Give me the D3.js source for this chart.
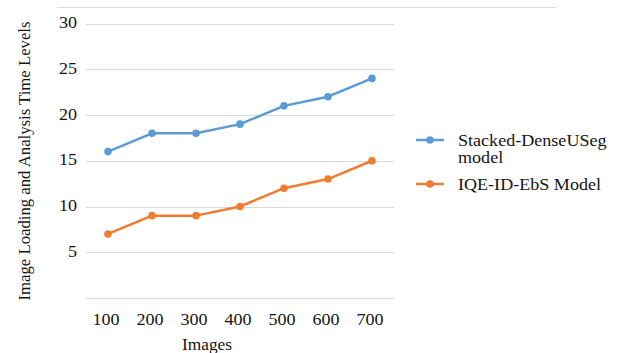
<!DOCTYPE html>
<html><head><meta charset="utf-8">
<script src="https://cdn.jsdelivr.net/npm/d3@7"></script>
<style>body{margin:0;background:#fff}text{font-family:"Liberation Serif","Times New Roman",serif;fill:#141414}</style>
</head><body><svg id="c" width="619" height="353"></svg>
<script>
const categories = ["100","200","300","400","500","600","700"];
const stackedDense = [16,18,18,19,21,22,24];
const iqeModel = [7,9,9,10,12,13,15];
const yTicks = [5,10,15,20,25,30];
const seriesNames = ["Stacked-DenseUSeg model","IQE-ID-EbS Model"];
const colors = ["#5B9BD5","#ED7D31"];

const svg = d3.select("#c");
const x = d3.scalePoint().domain(categories).range([108,372]);
const y = d3.scaleLinear().domain([0,30]).range([298,23.5]);
const SX = 1.13, FS = 16;

function txt(g, px, py, t, anchor, sx){
  return g.append("text").attr("transform",`translate(${px},${py}) scale(${sx||SX},1)`)
    .attr("text-anchor",anchor||"start").attr("font-size",FS).attr("dy","0.35em").text(t);
}

svg.append("line").attr("x1",57).attr("x2",556).attr("y1",7.5).attr("y2",7.5).attr("stroke","#d9d9d9");

const gridVals = [0].concat(yTicks);
svg.append("g").selectAll("line").data(gridVals).join("line")
  .attr("x1",86).attr("x2",394).attr("y1",d=>Math.round(y(d))+0.5).attr("y2",d=>Math.round(y(d))+0.5)
  .attr("stroke","#d9d9d9").attr("stroke-width",1);

yTicks.forEach(d=>txt(svg,77,y(d)-1,d,"end"));
categories.forEach(d=>txt(svg,x(d)-2,319,d,"middle"));
txt(svg,207,344,"Images","middle",1.08);
svg.append("text").attr("transform","translate(24,161) rotate(-90) scale(1.045,1)").attr("text-anchor","middle")
  .attr("font-size",FS).attr("dy","0.35em").text("Image Loading and Analysis Time Levels");

const line = d3.line().x((d,i)=>x(categories[i])).y(d=>y(d));
[stackedDense, iqeModel].forEach((s,k)=>{
  svg.append("path").datum(s).attr("d",line).attr("fill","none").attr("stroke",colors[k]).attr("stroke-width",2.5).attr("stroke-linejoin","round");
  svg.append("g").selectAll("circle").data(s).join("circle")
    .attr("cx",(d,i)=>x(categories[i])).attr("cy",d=>y(d)).attr("r",3.8).attr("fill",colors[k]);
});

const leg = [{y:140,lines:["Stacked-DenseUSeg","model"]},{y:184,lines:["IQE-ID-EbS Model"]}];
leg.forEach((l,k)=>{
  svg.append("line").attr("x1",416).attr("x2",444).attr("y1",l.y).attr("y2",l.y).attr("stroke",colors[k]).attr("stroke-width",2.5);
  svg.append("circle").attr("cx",430).attr("cy",l.y).attr("r",3.8).attr("fill",colors[k]);
  l.lines.forEach((t,j)=>txt(svg,458,l.y+j*17,t,"start"));
});
</script></body></html>
